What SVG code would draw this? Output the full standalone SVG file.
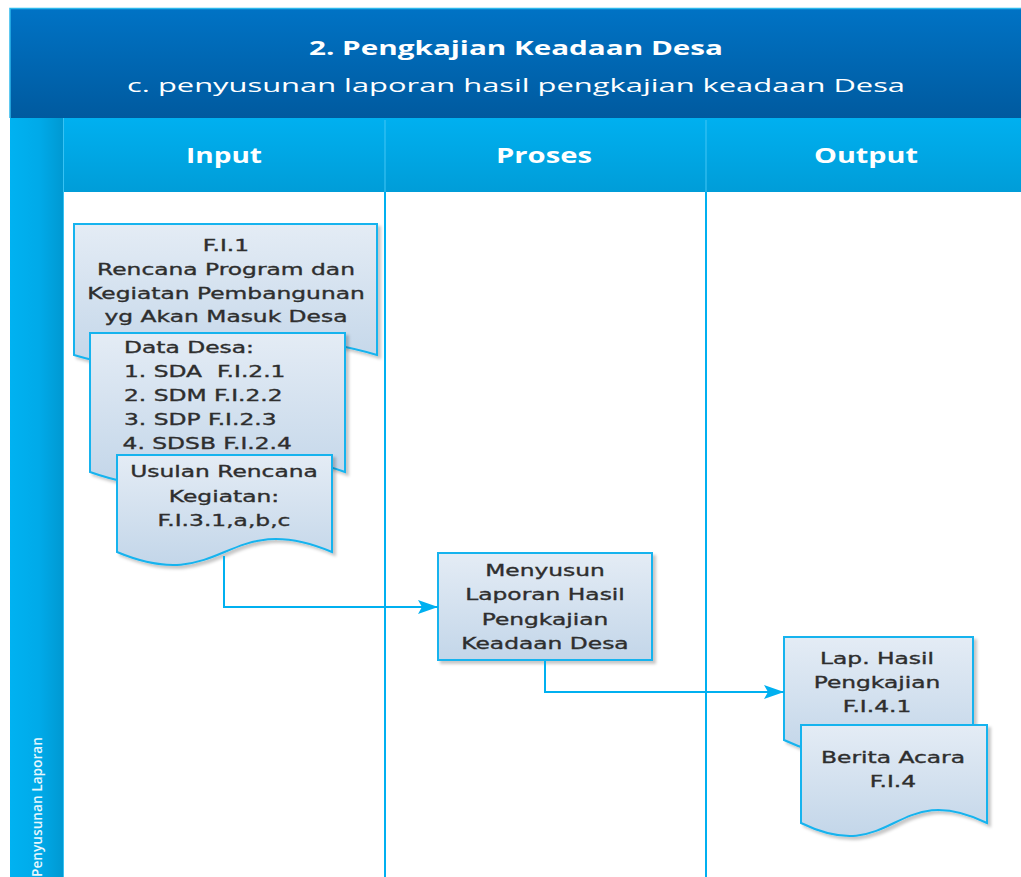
<svg xmlns="http://www.w3.org/2000/svg" width="1021" height="877" viewBox="0 0 1021 877">
  <defs>
    <linearGradient id="gBanner" x1="0" y1="0" x2="0" y2="1">
      <stop offset="0" stop-color="#0073C5"/>
      <stop offset="1" stop-color="#005A9F"/>
    </linearGradient>
    <linearGradient id="gHead" x1="0" y1="0" x2="0" y2="1">
      <stop offset="0" stop-color="#00B0F0"/>
      <stop offset="1" stop-color="#009DD8"/>
    </linearGradient>
    <linearGradient id="gBar" x1="0" y1="0" x2="1" y2="0">
      <stop offset="0" stop-color="#00B2F1"/>
      <stop offset="0.55" stop-color="#00AAE9"/>
      <stop offset="1" stop-color="#0099D2"/>
    </linearGradient>
    <linearGradient id="gShape" x1="0" y1="0" x2="0" y2="1">
      <stop offset="0" stop-color="#E4ECF5"/>
      <stop offset="1" stop-color="#C3D6E9"/>
    </linearGradient>
    <filter id="shadow" x="-10%" y="-10%" width="130%" height="130%">
      <feDropShadow dx="3" dy="3" stdDeviation="1.5" flood-color="#000" flood-opacity="0.22"/>
    </filter>
    <marker id="arrow" markerUnits="userSpaceOnUse" markerWidth="20" markerHeight="14" refX="20" refY="7" orient="auto">
      <path d="M0,0 L20,7 L0,14 L4,7 Z" fill="#00B0F0"/>
    </marker>
  </defs>
  <style>
    .shape { fill: url(#gShape); stroke: #17B3EE; stroke-width: 2; filter: url(#shadow); }
    .lbl { font-family: "DejaVu Sans", Verdana, sans-serif; font-size: 16px; fill: #2E2E2E; stroke: #2E2E2E; stroke-width: 0.35; }
    .mid { text-anchor: middle; }
    .head { font-family: "Open Sans", "Liberation Sans", sans-serif; fill: #FFFFFF; text-anchor: middle; }
    .lane { stroke: #00B0F0; stroke-width: 2; fill: none; }
    .conn { stroke: #00B0F0; stroke-width: 2; fill: none; marker-end: url(#arrow); }
  </style>

  <rect x="0" y="0" width="1021" height="877" fill="#FFFFFF"/>

  <!-- title banner -->
  <g id="banner">
    <rect x="10" y="8" width="1011" height="110" fill="url(#gBanner)"/>
    <path d="M10,118 V8.5 H1021" fill="none" stroke="#2DB8EC" stroke-width="1.5"/>
    <text class="head" x="516" y="55" font-size="19" font-weight="bold" textLength="414" lengthAdjust="spacingAndGlyphs">2. Pengkajian Keadaan Desa</text>
    <text class="head" x="516" y="92" font-size="18" textLength="778" lengthAdjust="spacingAndGlyphs">c. penyusunan laporan hasil pengkajian keadaan Desa</text>
  </g>

  <!-- swimlane frame -->
  <g id="lanes">
    <rect x="10" y="118" width="53" height="759" fill="url(#gBar)"/>
    <rect x="63" y="118" width="958" height="74" fill="url(#gHead)"/>
    <line x1="63.5" y1="118" x2="63.5" y2="877" stroke="#38C2F3" stroke-width="1"/>
    <line x1="385" y1="120" x2="385" y2="192" stroke="#45C6F5" stroke-width="1"/>
    <line x1="706" y1="120" x2="706" y2="192" stroke="#45C6F5" stroke-width="1"/>
    <text class="head" x="224" y="163" font-size="21" font-weight="bold" textLength="76" lengthAdjust="spacingAndGlyphs">Input</text>
    <text class="head" x="544" y="163" font-size="21" font-weight="bold" textLength="96" lengthAdjust="spacingAndGlyphs">Proses</text>
    <text class="head" x="866" y="163" font-size="21" font-weight="bold" textLength="104" lengthAdjust="spacingAndGlyphs">Output</text>
    <text transform="translate(42 877) rotate(-90)" font-family="'Open Sans', 'Liberation Sans', sans-serif" font-size="15" font-weight="600" fill="#E8F7FD" textLength="140" lengthAdjust="spacingAndGlyphs">Penyusunan Laporan</text>
    <line class="lane" x1="385" y1="192" x2="385" y2="877"/>
    <line class="lane" x1="706" y1="192" x2="706" y2="877"/>
  </g>

  <!-- input documents -->
  <g id="doc-fi1">
    <path class="shape" d="M74,224 H377 V355 C225.5,310 225.5,400 74,355 Z"/>
    <g transform="translate(226 0) scale(1.46 1)">
      <text class="lbl mid" x="0" y="251">F.I.1</text>
      <text class="lbl mid" x="0" y="275">Rencana Program dan</text>
      <text class="lbl mid" x="0" y="299">Kegiatan Pembangunan</text>
      <text class="lbl mid" x="0" y="322">yg Akan Masuk Desa</text>
    </g>
  </g>

  <g id="doc-data-desa">
    <path class="shape" d="M90,333 H345 V472 C217.5,427 217.5,517 90,472 Z"/>
    <g transform="translate(124 0) scale(1.46 1)">
      <text class="lbl" x="0" y="353">Data Desa:</text>
      <text class="lbl" x="0" y="377" xml:space="preserve">1. SDA  F.I.2.1</text>
      <text class="lbl" x="0" y="401">2. SDM F.I.2.2</text>
      <text class="lbl" x="0" y="425">3. SDP F.I.2.3</text>
      <text class="lbl" x="-1" y="449">4. SDSB F.I.2.4</text>
    </g>
  </g>

  <g id="doc-usulan">
    <path class="shape" d="M117,455 H332 V552 C224.5,507 224.5,597 117,552 Z"/>
    <g transform="translate(224 0) scale(1.46 1)">
      <text class="lbl mid" x="0" y="477">Usulan Rencana</text>
      <text class="lbl mid" x="0" y="502">Kegiatan:</text>
      <text class="lbl mid" x="0" y="526">F.I.3.1,a,b,c</text>
    </g>
  </g>

  <!-- process -->
  <g id="proc-menyusun">
    <rect class="shape" x="438" y="553" width="214" height="107"/>
    <g transform="translate(545 0) scale(1.46 1)">
      <text class="lbl mid" x="0" y="576">Menyusun</text>
      <text class="lbl mid" x="0" y="600">Laporan Hasil</text>
      <text class="lbl mid" x="0" y="625">Pengkajian</text>
      <text class="lbl mid" x="0" y="649">Keadaan Desa</text>
    </g>
  </g>

  <!-- output documents -->
  <g id="doc-lap-hasil">
    <path class="shape" d="M784,637 H973 V740 C878.5,695 878.5,785 784,740 Z"/>
    <g transform="translate(877 0) scale(1.46 1)">
      <text class="lbl mid" x="0" y="664">Lap. Hasil</text>
      <text class="lbl mid" x="0" y="688">Pengkajian</text>
      <text class="lbl mid" x="0" y="712">F.I.4.1</text>
    </g>
  </g>

  <g id="doc-berita-acara">
    <path class="shape" d="M801,725 H987 V823 C894,778 894,868 801,823 Z"/>
    <g transform="translate(893 0) scale(1.46 1)">
      <text class="lbl mid" x="0" y="763">Berita Acara</text>
      <text class="lbl mid" x="0" y="787">F.I.4</text>
    </g>
  </g>

  <!-- connectors -->
  <g id="connectors">
    <path class="conn" d="M224,556 V607 H438"/>
    <path class="conn" d="M545,661 V692 H784"/>
  </g>
</svg>
